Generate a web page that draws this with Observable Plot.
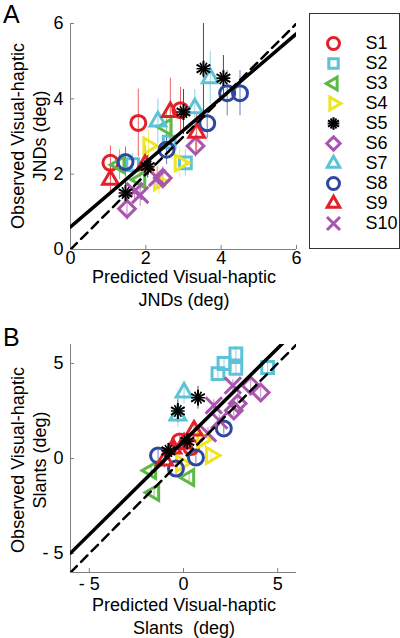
<!DOCTYPE html>
<html>
<head>
<meta charset="utf-8">
<script src="https://cdn.jsdelivr.net/npm/d3@7"></script>
<script src="https://cdn.jsdelivr.net/npm/@observablehq/plot@0.6"></script>
<style>
  html, body { margin: 0; padding: 0; background: #fff; }
  #wrap { position: relative; width: 400px; height: 638px; font-family: "Liberation Sans", Arial, sans-serif; color: #000; overflow: hidden; }
  .abs { position: absolute; }
  .panel-letter { font-size: 25px; line-height: 25px; }
  .xlab { font-size: 18px; line-height: 23px; text-align: center; white-space: pre; transform: translate(-50%, 0); }
  .ylab { font-size: 18px; line-height: 22px; text-align: center; white-space: pre; transform: translate(-50%, -50%) rotate(-90deg); }
  #legend { border: 1px solid #333; box-sizing: border-box; background: #fff; }
</style>
</head>
<body>
<div id="wrap">
  <div class="abs panel-letter" style="left:3px; top:2px;">A</div>
  <div class="abs panel-letter" style="left:3px; top:325px;">B</div>
  <div id="plotA" class="abs" style="left:0; top:0;"></div>
  <div id="plotB" class="abs" style="left:0; top:320px;"></div>
  <div id="legend" class="abs" style="left:309px; top:13px; width:91px; height:236px;"></div>
  <div class="abs xlab" style="left:184px; top:266px;">Predicted Visual-haptic
JNDs (deg)</div>
  <div class="abs ylab" style="left:29px; top:136px;">Observed Visual-haptic
JNDs (deg)</div>
  <div class="abs xlab" style="left:184px; top:594px;">Predicted Visual-haptic
Slants  (deg)</div>
  <div class="abs ylab" style="left:29px; top:460px;">Observed Visual-haptic
Slants (deg)</div>
</div>
<script>
// ---------- subjects & styling ----------
const subjects = ["S1", "S2", "S3", "S4", "S5", "S6", "S7", "S8", "S9", "S10"];
const subjectColors = ["#e41f2a", "#5cc3d6", "#5db846", "#eee41f", "#000000", "#a955ad", "#5cc3d6", "#2e47a0", "#e41f2a", "#a955ad"];
const subjectSymbols = ["circle", "square2", "triangle2", "triangle2", "asterisk", "diamond2", "triangle2", "circle", "triangle2", "times"];
const subjectRotate = [0, 0, -90, 90, 0, 0, 0, 0, 0, 0];

// ---------- Panel A: JNDs ----------
const jndSubject = [0,0,0, 1,1,1, 2,2,2, 3,3,3, 4,4,4,4,4, 5,5,5, 6,6,6, 7,7,7,7,7, 8,8,8,8, 9,9,9];
const jndPredicted = [1.06,1.80,2.92, 3.05,2.62,1.65, 1.30,2.55,1.85, 2.07,2.35,2.90, 3.53,4.06,3.00,1.46,2.05, 1.50,2.45,3.32, 3.71,2.32,3.30, 4.16,4.50,3.63,1.46,2.55, 2.65,3.35,1.06,1.98, 1.85,2.30,1.70];
const jndObserved  = [2.30,3.36,3.70, 2.30,2.85,2.25, 2.25,3.25,1.85, 2.75,1.80,2.30, 4.80,4.55,3.65,1.50,2.20, 1.08,1.90,2.75, 4.55,3.40,3.75, 4.15,4.15,3.35,2.32,2.65, 3.65,3.10,1.85,2.25, 1.45,1.90,1.55];
const jndError     = [0.45,0.90,0.60, 0.35,0.30,0.30, 0.40,0.50,0.30, 0.40,0.35,0.40, 1.20,0.60,0.60,0.30,0.30, 0.30,0.30,0.30, 0.70,0.60,0.50, 0.60,0.60,0.40,0.40,0.40, 0.90,0.50,0.40,0.50, 0.30,0.30,0.30];
const jndTicks = [0, 2, 4, 6];
const jndDomain = [0, 6];
const jndFitSlope = 0.855, jndFitIntercept = 0.60;

// ---------- Panel B: Slants ----------
const slantSubject = [0,0, 1,1,1,1,1, 2,2,2, 3,3,3, 4,4,4,4, 5,5,5,5, 6,6, 7,7,7,7, 8,8,8,8, 9,9,9,9];
const slantPredicted = [-0.2,0.4, 2.78,1.83,2.78,4.47,2.15, -1.56,-1.72,0.30, 1.46,1.00,-0.13, 0.77,-0.30,0.20,-0.80, 4.10,3.57,2.67,2.88, 0.03,-0.30, 2.14,0.66,-1.35,-0.40, 0.56,0.03,-0.56,-1.00, 2.62,1.61,1.30,1.90];
const slantObserved  = [0.9,0.6, 5.50,4.47,4.74,4.79,5.00, -1.79,-0.63,-1.00, 0.16,1.00,-0.26, 3.20,2.50,0.90,0.40, 3.47,3.84,2.53,2.90, 3.47,2.26, 1.58,0.05,0.16,-0.53, 1.47,0.79,0.53,-0.10, 3.84,2.79,1.32,2.00];
const slantError     = [0.3,0.3, 0.4,0.3,0.3,0.3,0.3, 0.3,0.3,0.3, 0.4,0.4,0.3, 0.6,0.6,0.5,0.4, 0.3,0.3,0.3,0.3, 0.6,0.6, 0.3,0.3,0.3,0.3, 0.4,0.5,0.4,0.4, 0.3,0.3,0.3,0.3];
const slantTicks = [-5, 0, 5];
const slantDomain = [-6, 6];
const slantFitSlope = 0.98, slantFitIntercept = 0.90;

// ---------- helpers ----------
const FONT = "Liberation Sans, Arial, sans-serif";
function rows(subj, px, py, pe) {
  return subj.map((s, i) => ({
    subject: subjects[s], color: subjectColors[s], symbol: subjectSymbols[s], rotate: subjectRotate[s],
    x: px[i], y: py[i], lo: py[i] - pe[i], hi: py[i] + pe[i], order: s
  }));
}
function fitLine(domain, slope, intercept) {
  return domain.map(x => ({x, y: intercept + slope * x}));
}
function negFmt(d) { return d < 0 ? "- " + Math.abs(d) : String(d); }

function panel({data, domain, ticks, slope, intercept, height, marginTop, marginBottom, xPad}) {
  const fit = fitLine(domain, slope, intercept);
  const diag = domain.map(v => ({x: v, y: v}));
  const plain = data.filter(d => d.symbol !== "asterisk");
  const burst = data.filter(d => d.symbol === "asterisk");
  return Plot.plot({
    width: 400, height,
    marginLeft: 70, marginRight: 104, marginTop, marginBottom,
    style: {fontFamily: FONT, fontSize: "18px", background: "transparent", overflow: "visible", color: "#000"},
    x: {domain, ticks},
    y: {domain, ticks},
    marks: [
      Plot.ruleY([domain[0]], {stroke: "#808080", strokeWidth: 1}),
      Plot.ruleX([domain[0]], {stroke: "#808080", strokeWidth: 1}),
      Plot.axisX({ticks, tickSize: -4, tickPadding: xPad, tickFormat: negFmt, label: null, stroke: "#808080", fill: "#000", fontSize: 18}),
      Plot.axisY({ticks, tickSize: -4, tickPadding: 11, tickFormat: negFmt, label: null, stroke: "#808080", fill: "#000", fontSize: 18}),
      Plot.ruleX(data, {x: "x", y1: "lo", y2: "hi", stroke: "color", strokeWidth: 1, strokeOpacity: 0.7}),
      Plot.dot(plain, {x: "x", y: "y", symbol: "symbol", stroke: "color", rotate: "rotate", r: 7.5, strokeWidth: 3, fill: "none"}),
      Plot.dot(burst, {x: "x", y: "y", symbol: "asterisk", stroke: "color", r: 7.5, strokeWidth: 2}),
      Plot.dot(burst, {x: "x", y: "y", symbol: "asterisk", stroke: "color", rotate: 90, r: 6.5, strokeWidth: 1.6}),
      Plot.line(diag, {x: "x", y: "y", stroke: "#000", strokeWidth: 2.5, strokeDasharray: "9,6", clip: true}),
      Plot.line(fit, {x: "x", y: "y", stroke: "#000", strokeWidth: 3.5, clip: true})
    ]
  });
}

const dataA = rows(jndSubject, jndPredicted, jndObserved, jndError);
const dataB = rows(slantSubject, slantPredicted, slantObserved, slantError);

document.getElementById("plotA").append(panel({
  data: dataA, domain: jndDomain, ticks: jndTicks, slope: jndFitSlope, intercept: jndFitIntercept,
  height: 320, marginTop: 23, marginBottom: 71, xPad: 6
}));
document.getElementById("plotB").append(panel({
  data: dataB, domain: slantDomain, ticks: slantTicks, slope: slantFitSlope, intercept: slantFitIntercept,
  height: 318, marginTop: 24, marginBottom: 66, xPad: 9
}));

// ---------- legend ----------
const legendRows = subjects.map((s, i) => ({subject: s, color: subjectColors[i], symbol: subjectSymbols[i], rotate: subjectRotate[i], pos: 0, lab: 1}));
const legendPlain = legendRows.filter(d => d.symbol !== "asterisk");
const legendBurst = legendRows.filter(d => d.symbol === "asterisk");
document.getElementById("legend").append(Plot.plot({
  width: 89, height: 234, margin: 0,
  style: {fontFamily: FONT, fontSize: "18px", background: "transparent", overflow: "visible"},
  x: {domain: [0, 1], range: [23, 55], axis: null},
  y: {type: "point", domain: subjects, range: [15, 222], axis: null},
  marks: [
    Plot.dot(legendPlain, {x: "pos", y: "subject", symbol: "symbol", stroke: "color", rotate: "rotate", r: 6, strokeWidth: 3, fill: "none"}),
    Plot.dot(legendBurst, {x: "pos", y: "subject", symbol: "asterisk", stroke: "color", r: 6, strokeWidth: 2.2}),
    Plot.dot(legendBurst, {x: "pos", y: "subject", symbol: "asterisk", stroke: "color", rotate: 90, r: 5.5, strokeWidth: 1.8}),
    Plot.text(legendRows, {x: "lab", y: "subject", text: "subject", textAnchor: "start", fontSize: 18, fill: "#000"})
  ]
}));
</script>
</body>
</html>
